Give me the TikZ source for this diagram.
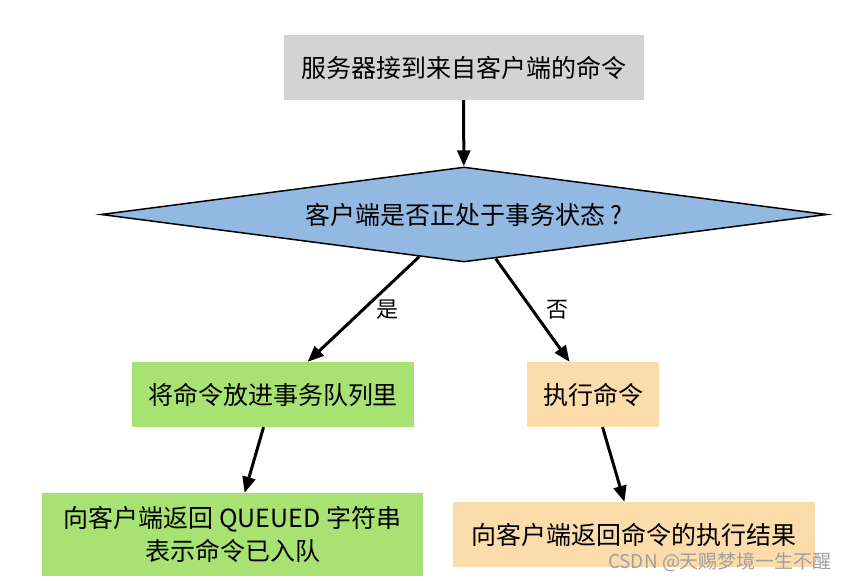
\documentclass[tikz,border=0pt]{standalone}
\usepackage{fontspec}
\setmainfont{Noto Sans CJK SC}
\usetikzlibrary{shapes.geometric,arrows.meta}
\definecolor{boxgray}{HTML}{D3D3D3}
\definecolor{dblue}{HTML}{93B9E2}
\definecolor{bgreen}{HTML}{A8E273}
\definecolor{borange}{HTML}{FBDCAA}
\definecolor{wmgray}{HTML}{A0A0A0}
\begin{document}
\begin{tikzpicture}[x=1pt,y=-1pt,
  box/.style={rectangle,inner sep=0pt,font=\fontsize{25}{33}\selectfont,align=center},
  dec/.style={diamond,draw=black,line width=1.5pt,fill=dblue,inner sep=0pt,
    minimum width=726pt,minimum height=95pt,aspect=7.64,font=\fontsize{25}{28}\selectfont},
  arr/.style={-{Triangle[length=16pt,width=13pt]},line width=3pt,black},
  lab/.style={font=\fontsize{22}{24}\selectfont,inner sep=0pt}]
\useasboundingbox (0,0) rectangle (847,581);
\node[box,fill=boxgray,minimum width=360pt,minimum height=65pt] (start) at (463.5,67.5) {服务器接到来自客户端的命令};
\node[dec] (q) at (464,214.5) {客户端是否正处于事务状态 ?};
\node[box,fill=bgreen,minimum width=282pt,minimum height=65pt] (enq) at (273,394.5) {将命令放进事务队列里};
\node[box,fill=borange,minimum width=132pt,minimum height=65pt] (exe) at (593,394.5) {执行命令};
\node[box,fill=bgreen,minimum width=381pt,minimum height=83pt] (ret1) at (232.5,534.5) {向客户端返回 QUEUED 字符串\\表示命令已入队};
\node[box,fill=borange,minimum width=362pt,minimum height=65pt] (ret2) at (634,534.5) {向客户端返回命令的执行结果};
\draw[arr] (start) -- (q);
\draw[arr] (q) -- (enq);
\draw[arr] (q) -- (exe);
\draw[arr] (enq) -- (ret1);
\draw[arr] (exe) -- (ret2);
\node[lab] (yes) at (387,310) {是};
\node[lab] (no) at (557,310) {否};
\node[font=\fontsize{19}{21}\selectfont,text=wmgray,inner sep=0pt] (wm) at (720,562) {CSDN @天赐梦境一生不醒};
\end{tikzpicture}
\end{document}
